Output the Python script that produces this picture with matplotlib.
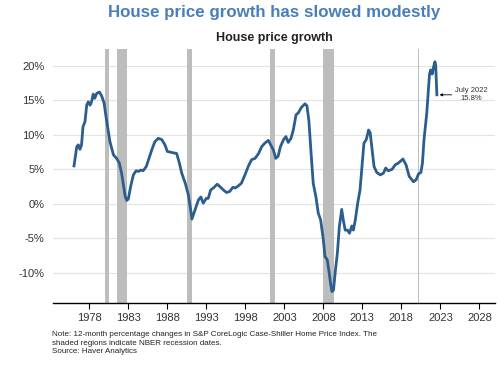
import numpy as np
import matplotlib.pyplot as plt

plt.rcParams['font.family'] = ['Liberation Sans', 'DejaVu Sans']

# 12-month % change, S&P CoreLogic Case-Shiller
years = [1976.04, 1976.4, 1976.6, 1976.8, 1977.0, 1977.2, 1977.45, 1977.67, 1977.87,
         1978.1, 1978.3, 1978.5, 1978.7, 1978.95, 1979.3, 1979.6, 1979.9, 1980.2,
         1980.65, 1981.1, 1981.5, 1981.85, 1982.15, 1982.6, 1982.8, 1983.0, 1983.3,
         1983.65, 1984.0, 1984.3, 1984.6, 1984.9, 1985.3, 1985.6, 1986.0, 1986.4,
         1986.85, 1987.3, 1987.7, 1988.0, 1988.55, 1989.2, 1989.55, 1989.85, 1990.3,
         1990.7, 1991.0, 1991.15, 1991.55, 1992.0, 1992.3, 1992.6, 1993.0, 1993.25,
         1993.55, 1994.0, 1994.4, 1994.75, 1995.2, 1995.6, 1996.0, 1996.4, 1996.7,
         1997.1, 1997.5, 1997.95, 1998.4, 1998.8, 1999.25, 1999.7, 2000.1, 2000.5,
         2000.95, 2001.25, 2001.6, 2001.9, 2002.2, 2002.5, 2002.9, 2003.2, 2003.5,
         2003.85, 2004.15, 2004.5, 2004.8, 2005.2, 2005.65, 2005.9, 2006.15, 2006.4,
         2006.7, 2007.05, 2007.35, 2007.65, 2008.0, 2008.2, 2008.5, 2008.75, 2008.95,
         2009.1, 2009.3, 2009.55, 2009.8, 2010.05, 2010.35, 2010.55, 2010.8, 2011.1,
         2011.35, 2011.65, 2011.85, 2012.1, 2012.4, 2012.7, 2013.05, 2013.2, 2013.5,
         2013.8, 2014.0, 2014.2, 2014.5, 2014.85, 2015.3, 2015.7, 2016.0, 2016.3,
         2016.8, 2017.2, 2017.6, 2018.2, 2018.6, 2019.0, 2019.55, 2019.9, 2020.2,
         2020.5, 2020.7, 2020.9, 2021.25, 2021.6, 2021.75, 2021.95, 2022.1, 2022.3,
         2022.4, 2022.55]
growth = [5.5, 8.3, 8.55, 7.9, 8.5, 11.2, 11.9, 14.3, 14.8,
          14.3, 14.8, 15.9, 15.3, 16.0, 16.2, 15.6, 14.6, 12.2,
          9.0, 7.1, 6.6, 5.9, 4.4, 1.1, 0.5, 0.7, 2.5,
          4.2, 4.8, 4.7, 4.9, 4.8, 5.4, 6.4, 7.8, 9.0,
          9.5, 9.3, 8.55, 7.6, 7.45, 7.3, 5.9, 4.45, 3.0,
          1.3, -0.9, -2.2, -0.9, 0.6, 1.0, 0.1, 0.8, 0.8,
          2.0, 2.4, 2.85, 2.5, 2.0, 1.65, 1.8, 2.4, 2.3,
          2.6, 3.0, 4.2, 5.5, 6.4, 6.6, 7.3, 8.3, 8.8,
          9.2, 8.55, 7.8, 6.6, 6.9, 8.3, 9.3, 9.75, 8.9,
          9.5, 10.7, 12.9, 13.2, 14.0, 14.5, 14.2, 12.0, 7.8,
          3.0, 1.0, -1.35, -2.3, -5.2, -7.6, -8.1, -10.0, -11.7,
          -12.7, -12.5, -9.6, -7.1, -3.3, -0.8, -2.3, -3.8, -3.8,
          -4.25, -3.2, -3.8, -2.3, 0.1, 2.0, 6.9, 8.8, 9.3,
          10.7, 10.3, 8.3, 5.4, 4.55, 4.2, 4.45, 5.2, 4.8,
          5.0, 5.65, 5.9, 6.5, 5.65, 4.0, 3.2, 3.5, 4.35,
          4.55, 5.9, 9.3, 13.1, 18.7, 19.4, 18.8, 19.7, 20.6,
          20.1, 15.8]

# NBER recessions (start, end) in fractional years
rec_start = [1980.0, 1981.5, 1990.5, 2001.17, 2007.92, 2020.08]
rec_end = [1980.5, 1982.83, 1991.17, 2001.83, 2009.42, 2020.3]

xticks = [1978, 1983, 1988, 1993, 1998, 2003, 2008, 2013, 2018, 2023, 2028]
yticks = [-10, -5, 0, 5, 10, 15, 20]

fig = plt.figure(figsize=(5, 3.65), dpi=100)
ax = fig.add_axes([0.106, 0.170, 0.884, 0.696])

for s, e in zip(rec_start, rec_end):
    ax.axvspan(s, e, color='#bdbdbd', lw=0, zorder=1)

ax.plot(years, growth, color='#2c5d8f', lw=2.0, zorder=3, solid_joinstyle='round')

ax.set_xlim(1973.35, 2030.0)
ax.set_ylim(-14.35, 22.45)
ax.set_xticks(xticks)
ax.set_yticks(yticks)
ax.set_yticklabels([f'{v}%' for v in yticks])
ax.grid(axis='y', color='#e3e3e3', lw=0.8, zorder=0)
ax.set_axisbelow(True)
for sp in ['top', 'right', 'left']:
    ax.spines[sp].set_visible(False)
ax.spines['bottom'].set_color('black')
ax.spines['bottom'].set_linewidth(1.0)
ax.tick_params(axis='x', length=4, width=0.8, color='black', labelsize=8,
               labelcolor='#333333', pad=3)
ax.tick_params(axis='y', length=0, labelsize=8, labelcolor='#333333', pad=6)

ax.annotate('July 2022\n15.8%', xy=(2022.9, 15.8), xytext=(2026.9, 15.8),
            ha='center', va='center', fontsize=5.5, color='#333333',
            arrowprops=dict(arrowstyle='-|>', color='black', lw=0.6,
                            mutation_scale=4, shrinkA=14, shrinkB=0))

fig.text(0.548, 0.965, 'House price growth has slowed modestly', ha='center',
         va='center', fontsize=12.2, fontweight='bold', color='#4a7ebb')
fig.text(0.548, 0.895, 'House price growth', ha='center', va='center',
         fontsize=9, fontweight='bold', color='#222222')
fig.text(0.104, 0.059, 'Note: 12-month percentage changes in S&P CoreLogic Case-Shiller Home Price Index. The\n'
         'shaded regions indicate NBER recession dates.\nSource: Haver Analytics',
         ha='left', va='center', fontsize=5.8, color='#222222', linespacing=1.3)

fig.savefig('out.png', dpi=100)
